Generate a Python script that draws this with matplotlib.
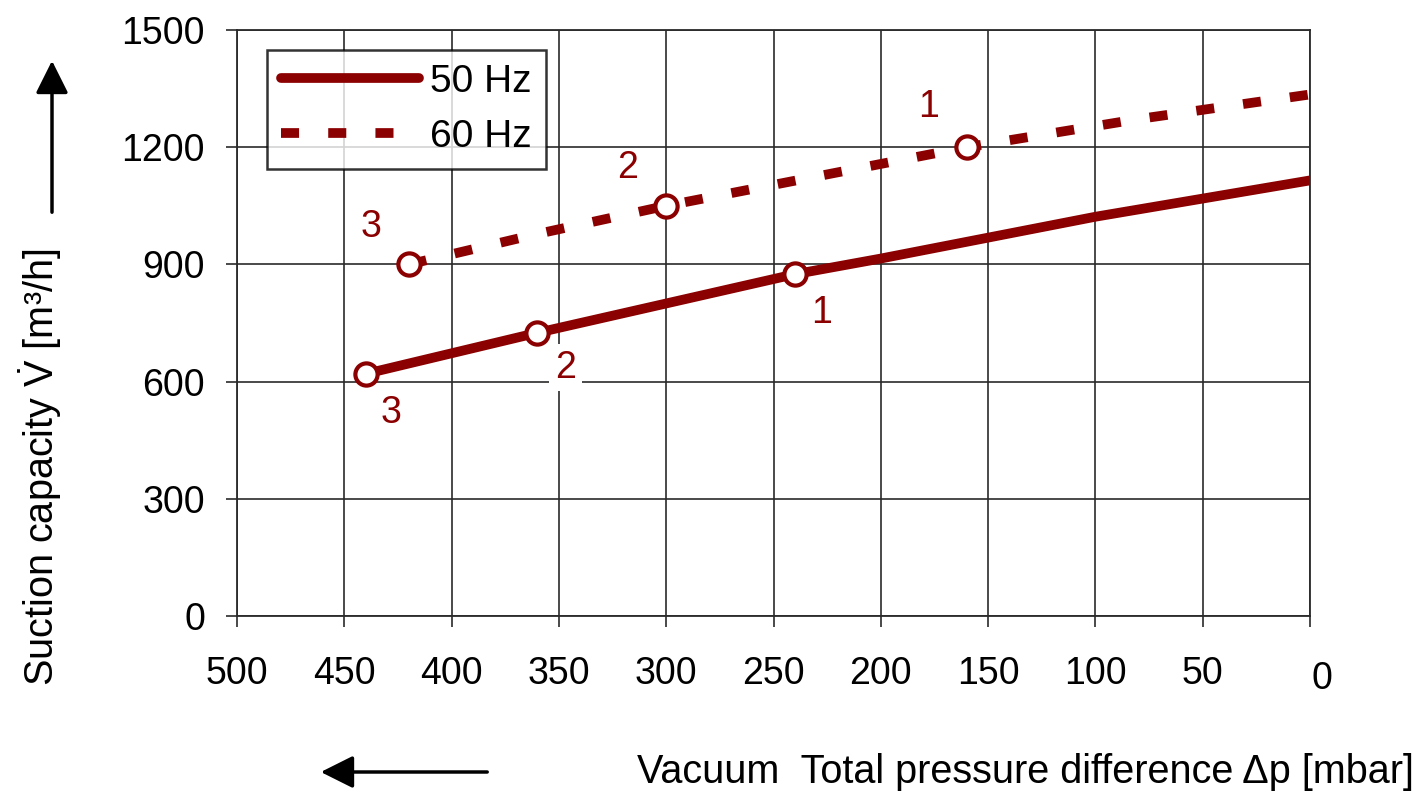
import matplotlib
matplotlib.use('Agg')
import matplotlib.pyplot as plt
from matplotlib.transforms import ScaledTranslation

plt.rcParams['font.family'] = ['Liberation Sans', 'DejaVu Sans']
plt.rcParams['lines.scale_dashes'] = False
plt.rcParams['mathtext.fontset'] = 'custom'
plt.rcParams['mathtext.rm'] = 'Liberation Sans'
plt.rcParams['mathtext.it'] = 'Liberation Sans'

# ---- data ----
p50 = [440, 360, 240, 200, 100, 0]
v50 = [620, 725, 875, 915, 1022, 1115]
p60 = [420, 360, 300, 160, 80, 0]
v60 = [900, 978, 1050, 1200, 1272, 1335]

m50_p = [440, 360, 240]
m50_v = [620, 725, 875]
m60_p = [420, 300, 160]
m60_v = [900, 1050, 1200]
point_labels = ['3', '2', '1']

x_ticks = [500, 450, 400, 350, 300, 250, 200, 150, 100, 50, 0]
y_ticks = [0, 300, 600, 900, 1200, 1500]

RED = '#8B0000'
GRID = '#2a2a2a'

fig = plt.figure(figsize=(14.24, 7.95), dpi=100)
ax = fig.add_axes([237/1424, 1-616/795, (1310-237)/1424, (616-30)/795])
ax.set_xlim(500, 0)
ax.set_ylim(0, 1500)
ax.set_xticks(x_ticks)
ax.set_yticks(y_ticks)
ax.grid(True, color=GRID, lw=1.2, zorder=0)
ax.set_axisbelow(True)
for s in ax.spines.values():
    s.set_color(GRID)
    s.set_linewidth(1.3)
ax.tick_params(axis='both', direction='out', length=8, width=1.2, color=GRID, labelsize=27)
ax.tick_params(axis='y', pad=15)
ax.tick_params(axis='x', pad=21)

l50, = ax.plot(p50, v50, color=RED, lw=7, solid_capstyle='round', label='50 Hz', zorder=3)
l60, = ax.plot(p60, v60, color=RED, lw=7, linestyle=(0, (13, 21)), dash_capstyle='butt',
               label='60 Hz', zorder=3)
ax.plot(m50_p, m50_v, 'o', ms=16, mfc='white', mec=RED, mew=3, zorder=4)
ax.plot(m60_p, m60_v, 'o', ms=16, mfc='white', mec=RED, mew=3, zorder=4)

off50 = [(25, -39), (28, -35), (27, -39)]
off60 = [(-38, 37), (-39, 38), (-38, 40)]
for x, y, t, o in zip(m50_p, m50_v, point_labels, off50):
    kw = {}
    if t == '2':
        kw['bbox'] = dict(boxstyle='square,pad=0.15', fc='white', ec='none')
    ax.annotate(t, (x, y), xytext=o, textcoords='offset pixels', color=RED, fontsize=27,
                ha='center', va='center', zorder=5, **kw)
for x, y, t, o in zip(m60_p, m60_v, point_labels, off60):
    ax.annotate(t, (x, y), xytext=o, textcoords='offset pixels', color=RED, fontsize=27,
                ha='center', va='center', zorder=5)

# offset the '0' tick label like in the reference
for lab in ax.get_xticklabels():
    if lab.get_text() == '0':
        lab.set_transform(lab.get_transform() + ScaledTranslation(0.12, -0.05, fig.dpi_scale_trans))

leg = ax.legend(handles=[l50, l60], loc='upper left', bbox_to_anchor=(0.028, 0.966),
                fontsize=28, handlelength=3.55, handletextpad=0.3, labelspacing=0.5,
                borderpad=0.35, borderaxespad=0, frameon=True, fancybox=False)
leg.get_frame().set_edgecolor('black')
leg.get_frame().set_linewidth(1.8)

# axis labels and arrows
fig.text(40/1424, 1-467/795, r'Suction capacity $\dot{\mathrm{V}}$ [m³/h]', rotation=90,
         fontsize=28.5, ha='center', va='center')
fig.text(637/1424, 1-772/795, 'Vacuum  Total pressure difference \u0394p [mbar]',
         fontsize=28.5, ha='left', va='center')
fig.add_artist(matplotlib.patches.FancyArrowPatch(
    (52/1424, 1-215/795), (52/1424, 1-58/795), transform=fig.transFigure,
    arrowstyle='-|>', mutation_scale=50, lw=2.5, color='black'))
fig.add_artist(matplotlib.patches.FancyArrowPatch(
    (490/1424, 1-772/795), (318/1424, 1-772/795), transform=fig.transFigure,
    arrowstyle='-|>', mutation_scale=50, lw=2.5, color='black'))

fig.savefig('out.png', dpi=100)
